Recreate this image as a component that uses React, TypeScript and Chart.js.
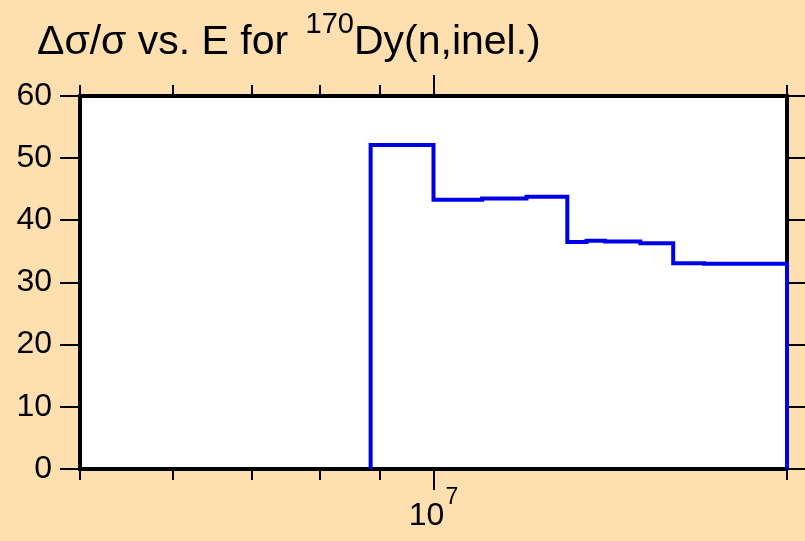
import React, { useEffect, useRef } from 'react';
import { Chart, registerables } from 'chart.js';

Chart.register(...registerables);

// Energy bin edges (eV) and relative uncertainty (%) for the step curve
const energies = [8.84e6, 8.84e6, 1.0e7, 1.1e7, 1.2e7, 1.3e7, 1.35e7, 1.4e7, 1.5e7, 1.6e7, 1.7e7, 2.0e7];
const relErr = [0, 52.1, 43.3, 43.5, 43.8, 36.5, 36.7, 36.6, 36.3, 33.1, 33.0, 0];

const yTicks = [0, 10, 20, 30, 40, 50, 60];
const xMinorTicks = [5e6, 6e6, 7e6, 8e6, 9e6, 2e7];
const xMajorTicks = [1e7];
const xMajorLabels = [{ base: '10', exp: '7' }];

const xMin = 5e6;
const xMax = 2e7;
const yMin = 0;
const yMax = 60;

const titleMain = 'Δσ/σ vs. E for ';
const titleSup = '170';
const titleRest = 'Dy(n,inel.)';

const BG = '#fedfb0';
const FONT = '"Liberation Sans", Arial, Helvetica, sans-serif';

export default function App() {
  const ref = useRef<HTMLCanvasElement>(null);

  useEffect(() => {
    document.body.style.margin = '0';
    document.body.style.background = BG;
    const canvas = ref.current!;

    const decor = {
      id: 'decor',
      beforeDraw(chart: any) {
        const { ctx, chartArea: a } = chart;
        ctx.save();
        ctx.fillStyle = BG;
        ctx.fillRect(0, 0, chart.width, chart.height);
        ctx.fillStyle = '#ffffff';
        ctx.fillRect(a.left, a.top, a.right - a.left, a.bottom - a.top);
        ctx.restore();
      },
      afterDraw(chart: any) {
        const { ctx, chartArea: a } = chart;
        const xs = chart.scales.x;
        ctx.save();
        ctx.strokeStyle = '#000';
        ctx.lineWidth = 2;
        const drawTick = (v: number, len: number) => {
          const px = Math.round(xs.getPixelForValue(v));
          ctx.beginPath();
          ctx.moveTo(px, a.bottom);
          ctx.lineTo(px, a.bottom + len);
          ctx.moveTo(px, a.top);
          ctx.lineTo(px, a.top - len);
          ctx.stroke();
        };
        xMinorTicks.forEach((v) => drawTick(v, 11));
        xMajorTicks.forEach((v) => drawTick(v, 21));

        // major tick labels 10^n
        ctx.fillStyle = '#000';
        ctx.textBaseline = 'alphabetic';
        xMajorTicks.forEach((v, i) => {
          const lab = xMajorLabels[i];
          ctx.font = `32px ${FONT}`;
          const wb = ctx.measureText(lab.base).width;
          ctx.font = `23px ${FONT}`;
          const we = ctx.measureText(lab.exp).width;
          const px = xs.getPixelForValue(v);
          const x0 = px - (wb + we + 1) / 2;
          ctx.font = `32px ${FONT}`;
          ctx.fillText(lab.base, x0, 525);
          ctx.font = `23px ${FONT}`;
          ctx.fillText(lab.exp, x0 + wb + 1, 504);
        });

        // title
        let x = 37;
        ctx.font = `41px ${FONT}`;
        ctx.fillText(titleMain, x, 54);
        x += ctx.measureText(titleMain).width + 6;
        ctx.font = `29px ${FONT}`;
        ctx.fillText(titleSup, x, 33);
        x += ctx.measureText(titleSup).width;
        ctx.font = `41px ${FONT}`;
        ctx.fillText(titleRest, x, 54);
        ctx.restore();
      },
    };

    const chart = new Chart(canvas, {
      type: 'line',
      data: {
        datasets: [
          {
            data: energies.map((e, i) => ({ x: e, y: relErr[i] })),
            stepped: 'before',
            borderColor: '#0000e6',
            borderWidth: 4,
            pointRadius: 0,
            fill: false,
            clip: false,
          } as any,
        ],
      },
      options: {
        animation: false,
        responsive: false,
        maintainAspectRatio: false,
        layout: { padding: 0 },
        plugins: {
          legend: { display: false },
          title: { display: false },
          tooltip: { enabled: false },
        },
        scales: {
          x: {
            type: 'logarithmic',
            position: 'bottom',
            min: xMin,
            max: xMax,
            grid: { display: false },
            ticks: { display: false },
            border: { display: true, color: '#000', width: 4 },
            afterFit: (s: any) => {
              s.height = 72;
            },
          },
          x2: {
            type: 'logarithmic',
            position: 'top',
            min: xMin,
            max: xMax,
            grid: { display: false },
            ticks: { display: false },
            border: { display: true, color: '#000', width: 4 },
            afterFit: (s: any) => {
              s.height = 96;
            },
          },
          y: {
            type: 'linear',
            position: 'left',
            min: yMin,
            max: yMax,
            afterBuildTicks: (s: any) => {
              s.ticks = yTicks.map((v) => ({ value: v }));
            },
            grid: {
              drawOnChartArea: false,
              drawTicks: true,
              tickLength: 20,
              tickWidth: 2,
              tickColor: '#000',
              color: '#000',
              lineWidth: 2,
            },
            border: { display: true, color: '#000', width: 4 },
            ticks: {
              color: '#000',
              font: { family: FONT, size: 32 },
              padding: 8,
            },
            afterFit: (s: any) => {
              s.width = 80;
            },
          },
          y2: {
            type: 'linear',
            position: 'right',
            min: yMin,
            max: yMax,
            afterBuildTicks: (s: any) => {
              s.ticks = yTicks.map((v) => ({ value: v }));
            },
            grid: {
              drawOnChartArea: false,
              drawTicks: true,
              tickLength: 20,
              tickWidth: 2,
              tickColor: '#000',
              color: '#000',
              lineWidth: 2,
            },
            border: { display: true, color: '#000', width: 4 },
            ticks: { display: false },
            afterFit: (s: any) => {
              s.width = 18;
            },
          },
        },
      },
      plugins: [decor],
    });

    return () => chart.destroy();
  }, []);

  return (
    <div style={{ width: 805, height: 541, background: BG }}>
      <canvas ref={ref} width={805} height={541} style={{ display: 'block' }} />
    </div>
  );
}
